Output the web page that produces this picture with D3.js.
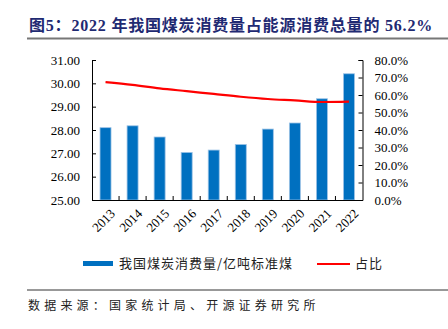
<!DOCTYPE html>
<html><head><meta charset="utf-8">
<script src="https://cdn.jsdelivr.net/npm/d3@7"></script>
<style>body{margin:0;background:#fff;} svg{display:block;}</style>
</head><body>
<script>
const years = ["2013","2014","2015","2016","2017","2018","2019","2020","2021","2022"];
const coal = [28.10, 28.18, 27.70, 27.04, 27.14, 27.38, 28.04, 28.30, 29.34, 30.41];
const share = [67.4, 65.8, 63.8, 62.2, 60.6, 59.0, 57.7, 56.9, 56.0, 56.2];
const leftTicks = [25, 26, 27, 28, 29, 30, 31];
const rightTicks = [0, 10, 20, 30, 40, 50, 60, 70, 80];
const titleText = "图5：2022 年我国煤炭消费量占能源消费总量的 56.2%";
const legendBar = "我国煤炭消费量/亿吨标准煤";
const legendLine = "占比";
const sourceText = "数据来源：国家统计局、开源证券研究所";

const W = 448, H = 329;
const svg = d3.select("body").append("svg").attr("width", W).attr("height", H);
const L = 92, R = 362.5, T = 60, B = 200;
const x = d3.scaleBand().domain(years).range([L, R]).paddingInner(0.6).paddingOuter(0.3);
const xb = d3.scaleBand().domain(years).range([L, R]);
const yL = d3.scaleLinear().domain([25, 31]).range([B, T]);
const yR = d3.scaleLinear().domain([0, 80]).range([B, T]);
const serif = "'Liberation Serif','Times New Roman',serif";

// title
svg.append("text").attr("x", 29).attr("y", 31).text(titleText)
  .attr("font-family", "'Liberation Serif','Noto Sans CJK SC',serif")
  .attr("font-weight", "bold").attr("font-size", 16).attr("letter-spacing", 0.8)
  .attr("fill", "#1F2A72");
svg.append("line").attr("x1", 27).attr("x2", 448).attr("y1", 38.5).attr("y2", 38.5)
  .attr("stroke", "#777").attr("stroke-width", 2);

// bars
svg.append("g").selectAll("rect").data(years).join("rect")
  .attr("x", d => xb(d) + xb.bandwidth()/2 - 5.5)
  .attr("width", 11)
  .attr("y", (d,i) => yL(coal[i]))
  .attr("height", (d,i) => B - yL(coal[i]))
  .attr("fill", "#0070C0").attr("stroke", "#9DC3E6").attr("stroke-width", 0.8);

// axes
const axL = d3.axisLeft(yL).tickValues(leftTicks).tickSize(-4).tickPadding(12).tickFormat(d3.format(".2f"));
const gL = svg.append("g").attr("transform", `translate(${L},0)`).call(axL);
const axR = d3.axisRight(yR).tickValues(rightTicks).tickSize(-4).tickPadding(12).tickFormat(d => d.toFixed(1) + "%");
const gR = svg.append("g").attr("transform", `translate(${R},0)`).call(axR);
const axB = d3.axisBottom(xb).tickSize(0).tickFormat("");
const gB = svg.append("g").attr("transform", `translate(0,${B})`).call(axB);
[gL, gR, gB].forEach(g => {
  g.select(".domain").attr("stroke", "#000").attr("stroke-width", 1);
  g.selectAll("line").attr("stroke", "#000");
  g.selectAll("text").attr("font-family", serif).attr("font-size", 13).attr("fill", "#000");
});
// inward x ticks at band boundaries
svg.append("g").selectAll("line").data(years.slice(1)).join("line")
  .attr("x1", d => xb(d)).attr("x2", d => xb(d)).attr("y1", B).attr("y2", B - 4)
  .attr("stroke", "#000");
// x labels rotated
svg.append("g").selectAll("text").data(years).join("text")
  .attr("transform", d => `translate(${xb(d) + xb.bandwidth()/2 + 4},${B + 8}) rotate(-45)`)
  .attr("text-anchor", "end").attr("dy", "0.7em")
  .attr("font-family", serif).attr("font-size", 13).attr("fill", "#000").text(d => d);

// line
const line = d3.line().x((d,i) => xb(years[i]) + xb.bandwidth()/2).y(d => yR(d)).curve(d3.curveMonotoneX);
svg.append("path").datum(share).attr("d", line).attr("fill", "none")
  .attr("stroke", "#FF0000").attr("stroke-width", 2.2);

// legend
const cjk = "'Noto Sans CJK SC','Noto Sans',sans-serif";
svg.append("rect").attr("x", 83).attr("y", 261).attr("width", 30).attr("height", 5).attr("fill", "#0070C0");
svg.append("text").attr("x", 119).attr("y", 268).text(legendBar)
  .attr("font-family", cjk).attr("font-size", 13).attr("letter-spacing", 1).attr("fill", "#222");
svg.append("line").attr("x1", 317).attr("x2", 350).attr("y1", 264).attr("y2", 264)
  .attr("stroke", "#FF0000").attr("stroke-width", 2.2);
svg.append("text").attr("x", 355).attr("y", 268).text(legendLine)
  .attr("font-family", cjk).attr("font-size", 13).attr("letter-spacing", 1).attr("fill", "#222");

// footer
svg.append("line").attr("x1", 27).attr("x2", 448).attr("y1", 290).attr("y2", 290)
  .attr("stroke", "#333").attr("stroke-width", 1);
svg.append("text").attr("x", 28).attr("y", 310).text(sourceText)
  .attr("font-family", cjk).attr("font-size", 12).attr("letter-spacing", 4.2).attr("fill", "#222");
</script>
</body></html>
